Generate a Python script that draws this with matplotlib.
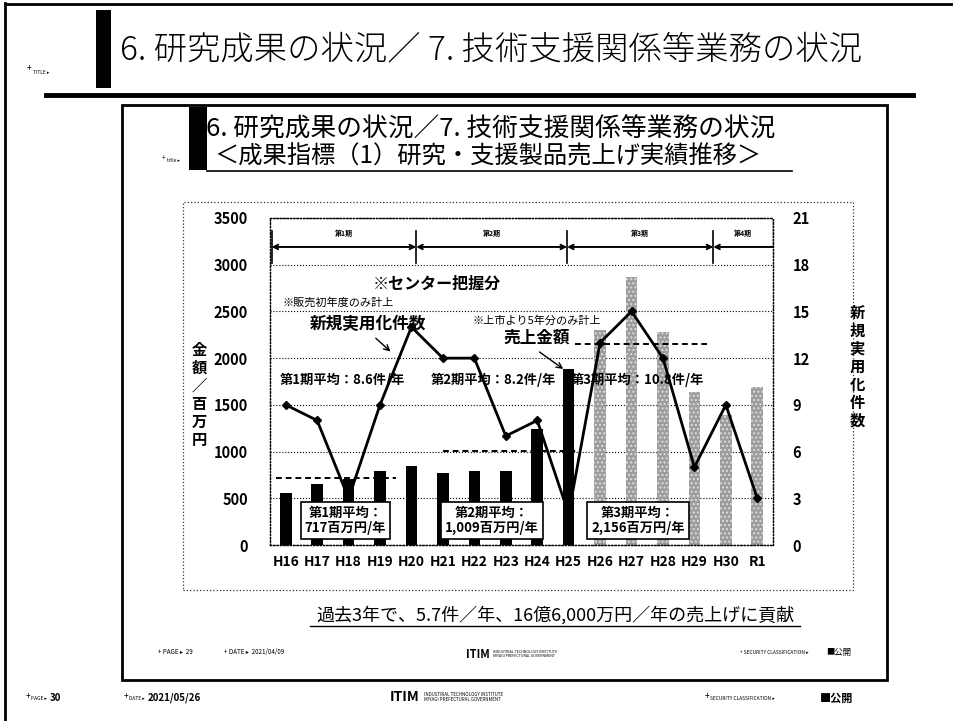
import numpy as np
import matplotlib
matplotlib.use("Agg")
import matplotlib.pyplot as plt
from matplotlib.patches import Rectangle
from matplotlib.lines import Line2D

plt.rcParams['font.family'] = ['Noto Sans CJK JP', 'DejaVu Sans']

# data
years = ['H16', 'H17', 'H18', 'H19', 'H20', 'H21', 'H22', 'H23',
         'H24', 'H25', 'H26', 'H27', 'H28', 'H29', 'H30', 'R1']
sales = [560, 650, 710, 790, 850, 770, 790, 790, 1240, 1880,
         2300, 2870, 2280, 1640, 1390, 1690]
counts = [9, 8, 3, 9, 14, 12, 12, 7, 8, 2, 13, 15, 12, 5, 9, 3]
dark_years = 10  # H16..H25 black, rest grey

period_names = ['第1期', '第2期', '第3期', '第4期']
period_edges = [-0.45, 4.15, 8.95, 13.6, 15.45]
sales_avg = [717, 1009, 2156]
sales_avg_span = [(-0.3, 3.5), (5.0, 9.3), (9.2, 13.4)]
sales_avg_text = ['第1期平均：\n717百万円/年', '第2期平均：\n1,009百万円/年',
                  '第3期平均：\n2,156百万円/年']
count_avg_text = ['第1期平均：8.6件/年', '第2期平均：8.2件/年',
                  '第3期平均：10.8件/年']

W, H = 954, 721
fig = plt.figure(figsize=(W / 100, H / 100), dpi=100)


def fx(x):
    return x / W


def fy(y):
    return 1 - y / H


def hline(x0, x1, y, lw=1.0, ls='-', color='black'):
    fig.add_artist(Line2D([fx(x0), fx(x1)], [fy(y), fy(y)], lw=lw, ls=ls,
                          color=color, transform=fig.transFigure))


def vline(x, y0, y1, lw=1.0, ls='-', color='black'):
    fig.add_artist(Line2D([fx(x), fx(x)], [fy(y0), fy(y1)], lw=lw, ls=ls,
                          color=color, transform=fig.transFigure))


def box(x0, y0, x1, y1, **kw):
    fig.add_artist(Rectangle((fx(x0), fy(y1)), fx(x1) - fx(x0), fy(y0) - fy(y1),
                             transform=fig.transFigure, **kw))


# outer slide frame
vline(5, 3, 721, lw=2)
hline(5, 954, 4, lw=2)
box(96, 10, 111, 88, facecolor='black', edgecolor='none')
fig.text(fx(120), fy(50), '6. 研究成果の状況／ 7. 技術支援関係等業務の状況',
         fontsize=24, va='center', ha='left', fontweight='light')
fig.text(fx(27), fy(68), '+', fontsize=6, va='center')
fig.text(fx(33), fy(72), 'TITLE ▸', fontsize=3.5, va='center')
hline(46, 913, 95, lw=3.5)

# inner slide
box(122, 105, 887, 680, facecolor='none', edgecolor='black', lw=2)
box(189, 107, 207, 170, facecolor='black', edgecolor='none')
fig.text(fx(206), fy(130), '6. 研究成果の状況／7. 技術支援関係等業務の状況',
         fontsize=18.5, va='center', ha='left')
fig.text(fx(214), fy(157), '＜成果指標（1）研究・支援製品売上げ実績推移＞',
         fontsize=17.5, va='center', ha='left')
hline(207, 792, 171, lw=1.2)
fig.text(fx(162), fy(158), '+', fontsize=5, va='center')
fig.text(fx(167), fy(161), 'title ▸', fontsize=3.5, va='center')

# chart frame
box(183, 202, 853, 590, facecolor='none', edgecolor='#333333', lw=0.9, ls=':')

ax = fig.add_axes([fx(270), fy(545), fx(773) - fx(270), fy(218) - fy(545)])
ax2 = ax.twinx()

x = np.arange(len(years))
bw = 0.37
ax.bar(x[:dark_years], sales[:dark_years], width=bw, color='black', zorder=2)
ax.bar(x[dark_years:], sales[dark_years:], width=bw, color='#9c9c9c',
       hatch='....', edgecolor='#dcdcdc', lw=0, zorder=2)

ax.set_xlim(-0.5, len(years) - 0.5)
ax.set_ylim(0, 3500)
ax.set_yticks(np.arange(0, 3501, 500))
ax.set_xticks(x)
ax.set_xticklabels(years, fontsize=10, fontweight='bold')
ax.tick_params(axis='y', length=0, pad=16, labelsize=10.5)
ax.tick_params(axis='x', length=3, pad=7, direction='in')
for lab in ax.get_yticklabels():
    lab.set_fontweight('bold')
ax.grid(axis='y', ls=':', color='black', lw=0.8, zorder=0)
for sp in ax.spines.values():
    sp.set_linestyle(':')
    sp.set_linewidth(0.9)
for sp in ax2.spines.values():
    sp.set_linestyle(':')
    sp.set_linewidth(0.9)

# average sales dashed lines
for v, (a, b) in zip(sales_avg, sales_avg_span):
    ax.plot([a, b], [v, v], ls=(0, (3, 2)), color='black', lw=1.4, zorder=3)

ax2.plot(x, counts, color='black', lw=2, marker='D', ms=4, zorder=5)
ax2.set_ylim(0, 21)
ax2.set_yticks(np.arange(0, 22, 3))
ax2.tick_params(axis='y', length=0, pad=14, labelsize=10.5)
for lab in ax2.get_yticklabels():
    lab.set_fontweight('bold')

# period arrows
for i, name in enumerate(period_names):
    a, b = period_edges[i], period_edges[i + 1]
    style = '<->' if i < 3 else '<-'
    bb = b if i < 3 else len(years) - 0.5
    ax.annotate('', xy=(bb, 3190), xytext=(a, 3190),
                arrowprops=dict(arrowstyle=style, lw=1.4, color='black',
                                shrinkA=0, shrinkB=0, mutation_scale=8))
    ax.text((a + bb) / 2, 3340, name, fontsize=5, ha='center', va='center',
            fontweight='bold')
for e in period_edges[:4]:
    ax.plot([e, e], [3020, 3360], color='black', lw=1.2)
ax.plot([len(years) - 0.5] * 2, [3190, 3500], color='black', lw=1)

# annotations
ax2.text(4.8, 16.8, '※センター把握分', fontsize=11.5, fontweight='bold',
         ha='center', va='center')
ax2.text(-0.1, 15.6, '※販売初年度のみ計上', fontsize=8, ha='left', va='center')
ax2.text(2.6, 14.2, '新規実用化件数', fontsize=12, fontweight='bold',
         ha='center', va='center')
ax2.annotate('', xy=(3.4, 12.3), xytext=(2.8, 13.4),
             arrowprops=dict(arrowstyle='->', lw=1, color='black'))
ax2.text(8.0, 14.4, '※上市より5年分のみ計上', fontsize=8, ha='center', va='center')
ax2.text(8.0, 13.3, '売上金額', fontsize=12, fontweight='bold',
         ha='center', va='center')
ax2.annotate('', xy=(8.9, 11.2), xytext=(8.0, 12.5),
             arrowprops=dict(arrowstyle='->', lw=1, color='black'))
for xc, t in zip([1.8, 6.6, 11.2], count_avg_text):
    ax2.text(xc, 10.6, t, fontsize=9.5, fontweight='bold',
             ha='center', va='center')
for xc, t in zip([1.9, 6.55, 11.2], sales_avg_text):
    ax2.text(xc, 1.6, t, fontsize=9.5, fontweight='bold', ha='center',
             va='center', linespacing=1.1,
             bbox=dict(boxstyle='square,pad=0.3', facecolor='white',
                       edgecolor='black', lw=1.2), zorder=6)

fig.text(fx(199), fy(395), '金\n額\n／\n百\n万\n円', fontsize=11,
         fontweight='bold', ha='center', va='center', linespacing=1.15)
fig.text(fx(857), fy(367), '新\n規\n実\n用\n化\n件\n数', fontsize=11,
         fontweight='bold', ha='center', va='center', linespacing=1.15)

# bottom message
fig.text(fx(555), fy(615), '過去3年で、5.7件／年、16億6,000万円／年の売上げに貢献',
         fontsize=13, ha='center', va='center')
hline(310, 800, 626, lw=1)

# inner footer
fig.text(fx(158), fy(652), '+ PAGE ▸  29', fontsize=4.5, va='center')
fig.text(fx(224), fy(652), '+ DATE ▸  2021/04/09', fontsize=4.5, va='center')
fig.text(fx(466), fy(654), 'ITIM', fontsize=8, fontweight='bold', va='center')
fig.text(fx(493), fy(654), 'INDUSTRIAL TECHNOLOGY INSTITUTE\nMIYAGI PREFECTURAL GOVERNMENT',
         fontsize=2.6, va='center', linespacing=1.1)
fig.text(fx(740), fy(652), '+ SECURITY CLASSIFICATION ▸', fontsize=3.5, va='center')
fig.text(fx(826), fy(652), '■公開', fontsize=6, va='center')

# outer footer
fig.text(fx(26), fy(697), '+', fontsize=6, va='center')
fig.text(fx(31), fy(699), 'PAGE ▸', fontsize=3.5, va='center')
fig.text(fx(50), fy(698), '30', fontsize=7, va='center', fontweight='bold')
fig.text(fx(124), fy(697), '+', fontsize=6, va='center')
fig.text(fx(129), fy(699), 'DATE ▸', fontsize=3.5, va='center')
fig.text(fx(148), fy(698), '2021/05/26', fontsize=7, va='center', fontweight='bold')
fig.text(fx(390), fy(697), 'ITIM', fontsize=10, fontweight='bold', va='center')
fig.text(fx(424), fy(697), 'INDUSTRIAL TECHNOLOGY INSTITUTE\nMIYAGI PREFECTURAL GOVERNMENT',
         fontsize=3.2, va='center', linespacing=1.1)
fig.text(fx(705), fy(697), '+', fontsize=6, va='center')
fig.text(fx(710), fy(699), 'SECURITY CLASSIFICATION ▸', fontsize=3.5, va='center')
fig.text(fx(820), fy(698), '■公開', fontsize=8, va='center', fontweight='bold')

fig.savefig('out.png', dpi=100)
